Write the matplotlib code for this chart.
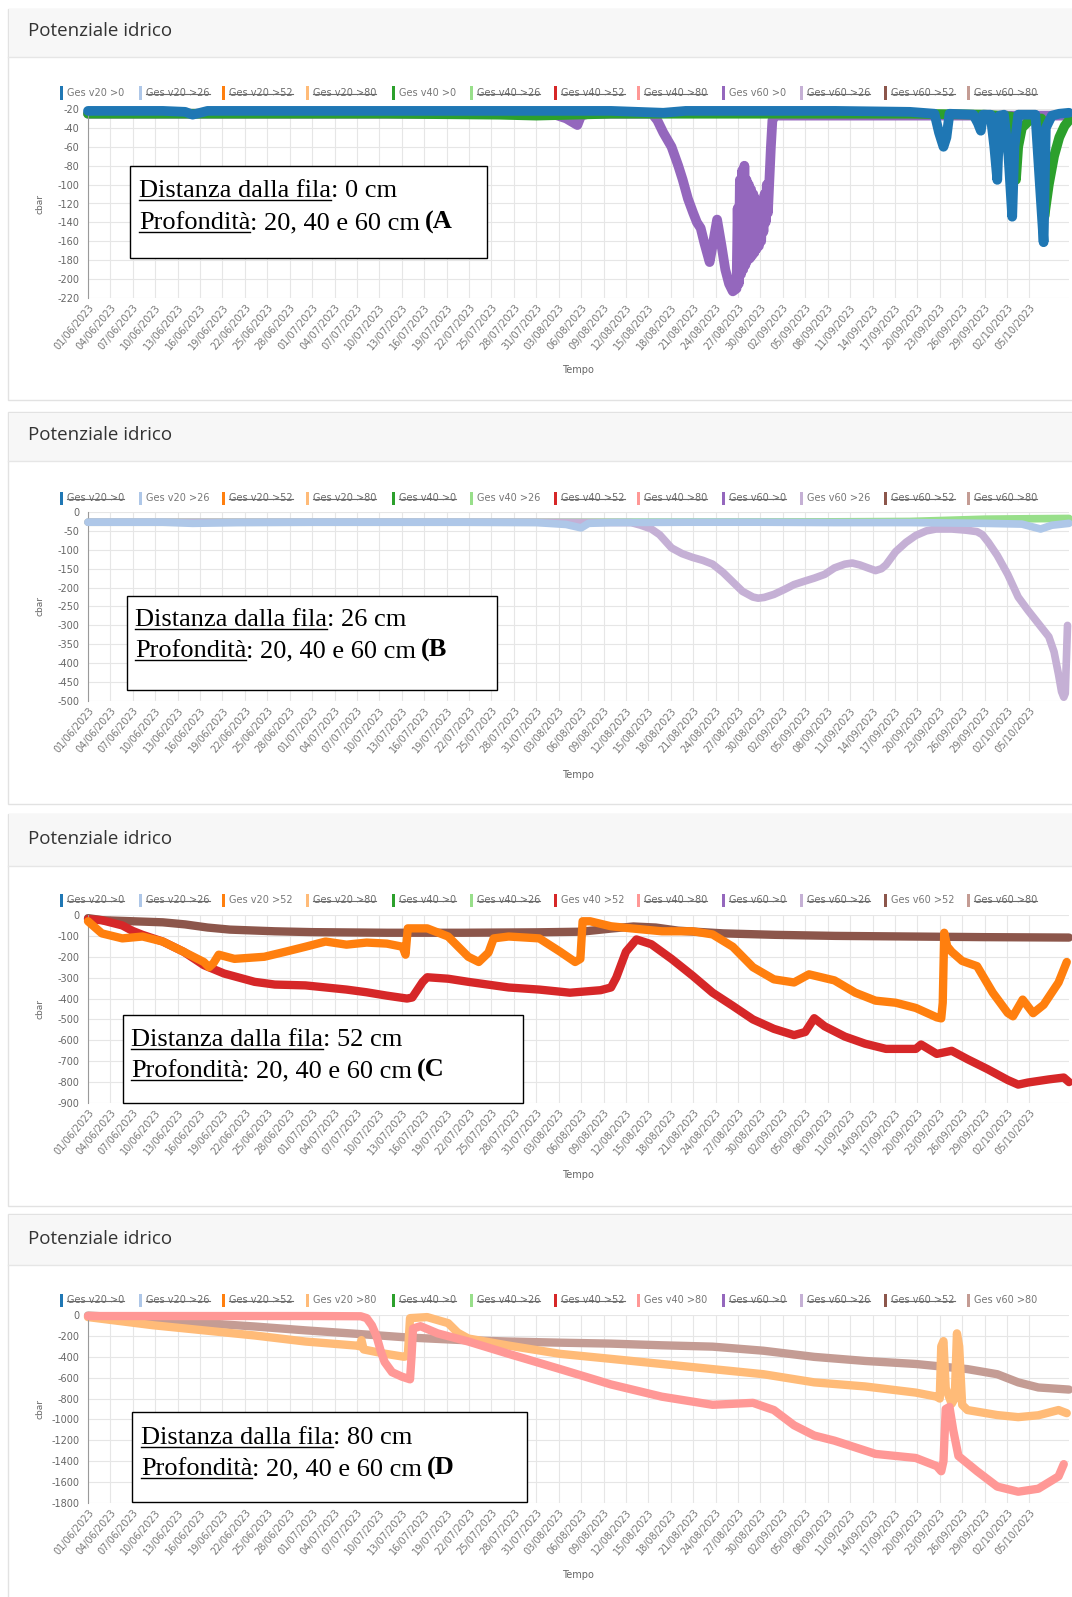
import matplotlib
matplotlib.use('Agg')
import matplotlib.pyplot as plt
from matplotlib.patches import Rectangle
from matplotlib.lines import Line2D
import pandas as pd

W, H = 1072, 1597

# ---------------- data ----------------
tick_dates = pd.date_range('2023-06-01', '2023-10-05', freq='3D')
tick_labels = [d.strftime('%d/%m/%Y') for d in tick_dates]
tick_days = [(d - tick_dates[0]).days for d in tick_dates]

legend_names = ['Ges v20 >0', 'Ges v20 >26', 'Ges v20 >52', 'Ges v20 >80',
                'Ges v40 >0', 'Ges v40 >26', 'Ges v40 >52', 'Ges v40 >80',
                'Ges v60 >0', 'Ges v60 >26', 'Ges v60 >52', 'Ges v60 >80']
legend_colors = ['#1f77b4', '#aec7e8', '#ff7f0e', '#ffbb78',
                 '#2ca02c', '#98df8a', '#d62728', '#ff9896',
                 '#9467bd', '#c5b0d5', '#8c564b', '#c49c94']

# Panel A (distance 0 cm)
A_v20_days = [0, 5, 10, 13, 14, 15, 16, 20, 30, 40, 50, 60, 70, 77, 80, 90, 100, 110,
              113.3, 113.9, 114.5, 114.9, 115.3, 118.5, 119.1, 119.5, 119.8, 120.8, 121.3,
              121.7, 122.0, 122.6, 123.2, 123.7, 124.0, 124.5, 126.8, 127.4, 127.9, 128.2,
              129, 130, 131.3]
A_v20_vals = [-22, -22, -22, -23, -26, -24, -22, -22, -22, -22, -22, -22, -22, -24, -22, -22, -22, -23,
              -25, -45, -60, -50, -25, -26, -35, -43, -26, -26, -60,
              -95, -27, -26, -70, -134, -60, -26, -26, -100, -161, -40,
              -27, -25, -24]
A_v40_days = [0, 20, 40, 55, 60, 65, 70, 80, 100, 110, 120, 123.6, 124.2, 124.5, 125.0, 126,
              127.6, 128.0, 128.6, 129.3, 130.0, 130.7, 131.3]
A_v40_vals = [-25, -25, -25, -26, -27, -26, -25, -25, -25, -25, -26, -28, -95, -60, -40, -32,
              -30, -134, -100, -70, -50, -38, -32]
A_v60_days = [0, 30, 61, 62.5, 64, 65.5, 66, 67, 75.5, 76.2, 77, 78.1, 79, 79.6, 80.3, 81, 81.5,
              82, 82.5, 83.2, 83.7, 84.2, 84.8, 85.3, 85.8, 86.3, 86.8,
              86.95, 87.1, 87.25, 87.4, 87.55, 87.7, 87.85, 88.0, 88.15, 88.3, 88.45, 88.6,
              88.75, 88.9, 89.05, 89.2, 89.35, 89.5, 89.65, 89.8, 89.95, 90.1, 90.25, 90.4,
              90.55, 90.7, 90.85, 91.0, 91.2, 91.4, 91.6, 92, 110, 131.3]
A_v60_vals = [-25, -25, -25, -26, -30, -37, -27, -25, -25, -32, -45, -60, -80, -95, -115, -130, -140,
              -146, -162, -182, -160, -137, -165, -190, -205, -213, -210,
              -125, -205, -95, -195, -85, -190, -80, -185, -95, -180, -100, -178,
              -105, -175, -110, -172, -115, -168, -120, -165, -125, -160, -120, -150,
              -110, -140, -100, -130, -95, -60, -32, -27, -27, -27]

# Panel B (distance 26 cm)
B_v20_days = [0, 10, 14, 20, 30, 40, 50, 60, 64, 66, 67, 70, 80, 90, 100, 110, 120, 125,
              127.5, 129, 131.3]
B_v20_vals = [-27, -27, -30, -28, -27, -27, -27, -28, -33, -42, -30, -28, -27, -27, -28, -28, -30, -32,
              -45, -35, -30]
B_v40_days = [0, 60, 100, 110, 115, 120, 125, 131.3]
B_v40_vals = [-27, -27, -26, -25, -22, -19, -18, -17]
B_v60_days = [0, 30, 60, 72.7, 74, 75.4, 76.5, 78.1, 79.5, 80.9, 82.3, 83.6, 85, 86.3, 87.6, 89.0,
              89.7, 90.5, 91.8, 93.2, 94.5, 95.9, 97.2, 98.6, 99.9, 101.3, 102.3, 103.3, 104.4,
              105.4, 106.2, 106.8, 108.1, 109.5, 110.8, 112.2, 113.5, 115.6, 117.5, 119.0, 119.7,
              120.5, 121.7, 123.1, 124.5, 125.8, 127.2, 128.6, 129.3, 129.9, 130.3, 130.6, 130.8,
              130.9, 131.1]
B_v60_vals = [-27, -27, -27, -28, -35, -45, -60, -95, -110, -120, -128, -138, -160, -185, -210, -225,
              -228, -226, -218, -205, -192, -183, -175, -165, -148, -138, -135, -140, -148,
              -155, -150, -140, -105, -80, -62, -50, -45, -45, -48, -52, -60,
              -80, -115, -165, -225, -260, -295, -330, -370, -430, -475, -490, -480,
              -420, -300]

# Panel C (distance 52 cm)
C_v20_days = [0, 1.85, 4.6, 7.3, 10.0, 12.8, 15.5, 16.2, 16.8, 17.5, 19.6, 23.6, 26.4, 29.1, 31.8,
              34.6, 37.3, 40.0, 42.1, 42.5, 42.8, 45.4, 48.2, 50.9, 52.3, 53.6, 54.3, 56.3, 60.4,
              63.2, 65.2, 65.9, 66.2, 67.2, 70.0, 72.7, 76.8, 80.9, 83.6, 86.3, 89.0, 91.8, 94.5,
              96.5, 99.9, 102.7, 105.4, 108.1, 110.8, 113.6, 114.2, 114.4, 114.6, 115.0, 115.6,
              117.0, 119.0, 121.1, 123.1, 123.8, 125.1, 126.5, 127.9, 129.9, 131.0]
C_v20_vals = [-30, -88, -112, -103, -127, -176, -225, -250, -230, -190, -210, -200, -176, -152, -127,
              -142, -132, -137, -152, -190, -64, -64, -103, -200, -225, -180, -112, -103, -112,
              -176, -225, -210, -30, -30, -54, -64, -78, -78, -93, -152, -250, -308, -323,
              -284, -313, -372, -410, -420, -445, -490, -495, -420, -85, -150, -176,
              -220, -245, -372, -469, -485, -405, -470, -430, -323, -225]
C_v40_days = [0, 1.85, 4.6, 5.9, 7.3, 10.0, 12.8, 15.5, 18.2, 22.3, 25, 29.1, 34.6, 37.3, 40.0,
              42.7, 43.4, 44.8, 45.4, 48.2, 50.9, 56.3, 60.4, 64.5, 68.6, 70.0, 70.7, 72.0, 73.4,
              75.4, 78.1, 80.9, 83.6, 86.3, 89.0, 91.8, 94.5, 96.0, 97.2, 98.6, 101.3, 104.0,
              106.8, 110.8, 111.5, 113.6, 115.6, 117.7, 120.4, 123.1, 124.5, 125.8, 128.6, 130.6,
              131.3]
C_v40_vals = [-20, -25, -50, -75, -95, -127, -176, -240, -280, -320, -333, -337, -357, -370, -386,
              -400, -395, -320, -298, -305, -320, -347, -357, -372, -360, -347, -300, -176, -117,
              -140, -210, -290, -372, -435, -500, -545, -575, -560, -494, -533, -582, -616,
              -641, -641, -620, -665, -650, -690, -738, -790, -812, -802, -787, -778,
              -800]
C_v60_days = [0, 2, 6, 10, 13, 16, 19, 25, 30, 40, 50, 60, 66, 70, 73, 76, 79, 85, 92, 100, 110,
              120, 131.3]
C_v60_vals = [-15, -25, -30, -35, -45, -60, -70, -78, -82, -85, -85, -83, -80, -65, -55, -60, -75,
              -88, -95, -100, -103, -106, -108]

# Panel D (distance 80 cm)
D_v20_days = [0, 8.7, 15.5, 22.3, 29.1, 35.9, 36.4, 36.6, 36.9, 39.7, 42.3, 42.8, 43.1, 45.4, 48.2,
              49.5, 50.9, 56.3, 63.2, 70.0, 76.8, 83.6, 90.4, 97.2, 104.0, 110.8, 113.6, 114.0,
              114.2, 114.5, 114.8, 115.6, 116.0, 116.3, 116.6, 117.0, 117.7, 121.7, 124.5, 127.2,
              129.9, 131.0]
D_v20_vals = [-20, -98, -147, -196, -254, -293, -300, -240, -330, -370, -400, -390, -30, -20, -78,
              -170, -225, -293, -372, -420, -469, -518, -567, -645, -684, -743, -782, -800,
              -300, -250, -700, -850, -800, -176, -300, -860, -910, -958, -978, -960,
              -910, -940]
D_v40_days = [0, 10, 20, 30, 36.5, 37.3, 38.0, 38.6, 39.2, 39.7, 40.7, 42.0, 43.1, 43.3, 43.5, 44.5,
              46.8, 50.9, 56.3, 63.2, 70.0, 76.8, 83.6, 89.0, 91.8, 94.5, 97.2, 99.9, 105.4, 110.8,
              113.6, 114.2, 114.5, 114.8, 115.3, 115.8, 116.5, 119.0, 121.7, 124.5, 127.2, 129.9,
              130.6]
D_v40_vals = [-10, -10, -10, -10, -12, -30, -100, -200, -350, -450, -548, -590, -616, -400, -130, -107,
              -176, -254, -372, -518, -665, -782, -860, -841, -910, -1056, -1154, -1203, -1330, -1369,
              -1447, -1496, -1400, -900, -880, -1100, -1350, -1496, -1643, -1692, -1663, -1545,
              -1428]
D_v60_days = [0, 8.7, 15.5, 22.3, 29.1, 35.9, 42.7, 50, 56.3, 63.2, 70.0, 76.8, 83.6, 90.4, 97.2,
              104.0, 110.8, 117.7, 121.7, 124.5, 127.2, 131.3]
D_v60_vals = [-5, -40, -78, -110, -147, -180, -215, -240, -254, -265, -274, -290, -303, -342, -401,
              -440, -469, -518, -567, -645, -694, -714]

panels = [
    dict(title_y=30.5, card=(9, 57, 400), ytop=109, ybot=298, ylim=(-220, -20),
         yticks=list(range(-20, -221, -20)), legend_y=93, visible=[0, 4, 8], lw=7,
         series=[(A_v60_days, A_v60_vals, 8, 1), (A_v40_days, A_v40_vals, 4, 2),
                 (A_v20_days, A_v20_vals, 0, 3)],
         box=(130, 166, 487, 258), tx=139, base=(197, 229), dist='0', letter='(A',
         tempo_y=370),
    dict(title_y=434.5, card=(412, 461, 804), ytop=512, ybot=701, ylim=(-500, 0),
         yticks=list(range(0, -501, -50)), legend_y=498, visible=[1, 5, 9], lw=5.5,
         series=[(B_v40_days, B_v40_vals, 5, 1), (B_v60_days, B_v60_vals, 9, 2),
                 (B_v20_days, B_v20_vals, 1, 3)],
         box=(127, 596, 497, 690), tx=135, base=(626, 657), dist='26', letter='(B',
         tempo_y=775),
    dict(title_y=838.5, card=(814, 866, 1206), ytop=915, ybot=1103, ylim=(-900, 0),
         yticks=list(range(0, -901, -100)), legend_y=900, visible=[2, 6, 10], lw=6,
         series=[(C_v60_days, C_v60_vals, 10, 1), (C_v40_days, C_v40_vals, 6, 2),
                 (C_v20_days, C_v20_vals, 2, 3)],
         box=(123, 1015, 523, 1103), tx=131, base=(1046, 1077), dist='52', letter='(C',
         tempo_y=1175),
    dict(title_y=1238.5, card=(1214, 1265, 1610), ytop=1315, ybot=1503, ylim=(-1800, 0),
         yticks=list(range(0, -1801, -200)), legend_y=1300, visible=[3, 7, 11], lw=6,
         series=[(D_v60_days, D_v60_vals, 11, 1), (D_v20_days, D_v20_vals, 3, 2),
                 (D_v40_days, D_v40_vals, 7, 3)],
         box=(132, 1412, 527, 1502), tx=141, base=(1444, 1475), dist='80', letter='(D',
         tempo_y=1575),
]

legend_x = [60, 139, 222, 306, 392, 470, 554, 637, 722, 800, 884, 967]

# ---------------- drawing ----------------
fig = plt.figure(figsize=(W / 100, H / 100), dpi=100)
fig.patch.set_facecolor('white')
renderer = fig.canvas.get_renderer()


def fx(x):
    return x / W


def fy(y):
    return 1 - y / H


SANS = ['DejaVu Sans']
SERIF = ['Liberation Serif', 'DejaVu Serif']

for p in panels:
    top, hb, bot = p['card']
    fig.add_artist(Rectangle((fx(8), fy(bot)), fx(1080 - 8), (bot - top) / H,
                             facecolor='white', edgecolor='#e2e2e2', lw=1, zorder=-5,
                             transform=fig.transFigure))
    fig.add_artist(Rectangle((fx(8.5), fy(hb)), fx(1080 - 8), (hb - top - 0.5) / H,
                             facecolor='#f7f7f7', edgecolor='none', zorder=-4,
                             transform=fig.transFigure))
    fig.add_artist(Line2D([fx(8), fx(1080)], [fy(hb), fy(hb)], color='#e6e6e6', lw=1,
                          zorder=-3, transform=fig.transFigure))
    fig.text(fx(28), fy(p['title_y']), 'Potenziale idrico', fontsize=13.5,
             family=['Open Sans', 'DejaVu Sans'], color='#333333', va='center', ha='left')

    ax = fig.add_axes([fx(88), fy(p['ybot']), fx(1069 - 88), (p['ybot'] - p['ytop']) / H])
    ax.set_facecolor('none')
    for days, vals, ci, z in p['series']:
        ax.plot(days, vals, color=legend_colors[ci], lw=p['lw'], solid_joinstyle='round',
                solid_capstyle='round', clip_on=False, zorder=z)
    ax.set_xlim(0, 131.3)
    ax.set_ylim(*p['ylim'])
    ax.set_yticks(p['yticks'])
    ax.set_yticklabels([str(v) for v in p['yticks']], fontsize=7, color='#666666',
                       family=SANS)
    ax.set_xticks(tick_days)
    ax.set_xticklabels(tick_labels, rotation=50, ha='right', va='top',
                       rotation_mode='anchor', fontsize=7, color='#777777', family=SANS)
    ax.tick_params(axis='both', length=0)
    ax.tick_params(axis='x', pad=3)
    ax.tick_params(axis='y', pad=6)
    ax.grid(True, color='#e6e6e6', lw=0.8, zorder=0)
    ax.set_axisbelow(True)
    for s in ['top', 'right', 'bottom']:
        ax.spines[s].set_visible(False)
    ax.spines['left'].set_color('#9a9a9a')
    ax.spines['left'].set_linewidth(0.8)

    fig.text(fx(40), fy((p['ytop'] + p['ybot']) / 2), 'cbar', rotation=90, fontsize=6.5,
             color='#666666', family=SANS, ha='center', va='center')
    fig.text(fx(578), fy(p['tempo_y']), 'Tempo', fontsize=7, color='#666666',
             family=SANS, ha='center', va='center')

    # legend
    ly = p['legend_y']
    for i, name in enumerate(legend_names):
        x = legend_x[i]
        fig.add_artist(Rectangle((fx(x), fy(ly + 6.5)), 3 / W, 13 / H,
                                 facecolor=legend_colors[i], edgecolor='none',
                                 transform=fig.transFigure))
        vis = i in p['visible']
        t = fig.text(fx(x + 7), fy(ly), name, fontsize=7, family=SANS,
                     color='#777777' if vis else '#6a6a6a', va='center', ha='left')
        if not vis:
            bb = t.get_window_extent(renderer)
            fig.add_artist(Line2D([bb.x0 / W, bb.x1 / W], [fy(ly + 0.5)] * 2,
                                  color='#6a6a6a', lw=0.8, transform=fig.transFigure))

    # annotation box
    x0, y0, x1, y1 = p['box']
    fig.add_artist(Rectangle((fx(x0), fy(y1)), (x1 - x0) / W, (y1 - y0) / H,
                             facecolor='white', edgecolor='black', lw=1, zorder=10,
                             transform=fig.transFigure))
    lines = [[('Distanza dalla fila', False, True), (': %s cm' % p['dist'], False, False)],
             [('Profondità', False, True), (': 20, 40 e 60 cm', False, False),
              (p['letter'], True, False)]]
    for li, parts in enumerate(lines):
        cur = p['tx']
        by = p['base'][li]
        for s, bold, ul in parts:
            if bold:
                cur += 5
            t = fig.text(fx(cur), fy(by), s, fontsize=19, family=SERIF,
                         fontweight='bold' if bold else 'normal', va='baseline',
                         ha='left', zorder=11, color='black')
            bb = t.get_window_extent(renderer)
            if ul:
                fig.add_artist(Line2D([bb.x0 / W, bb.x1 / W], [fy(by + 3)] * 2,
                                      color='black', lw=1, zorder=11,
                                      transform=fig.transFigure))
            cur = bb.x1

fig.savefig('out.png', dpi=100, facecolor='white')
